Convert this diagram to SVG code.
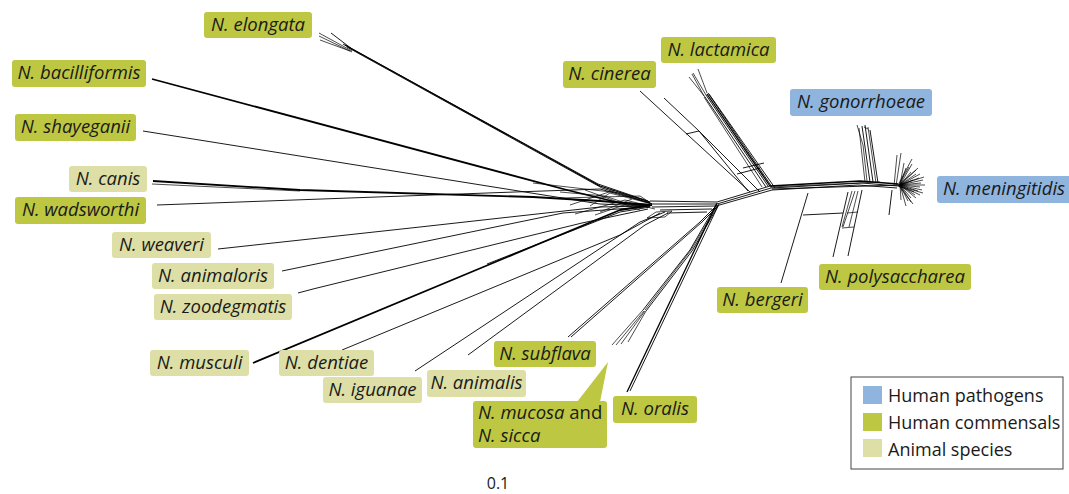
<svg xmlns="http://www.w3.org/2000/svg" width="1069" height="494" viewBox="0 0 1069 494">
<style>
.hc{fill:#bec741}
.an{fill:#dddfa6}
.hp{fill:#8fb4de}
.lb{font-family:"Open Sans","Noto Sans",sans-serif;font-style:italic;font-size:18.5px;fill:#1a1a1a;text-anchor:middle}
.lg{font-family:"Open Sans","Noto Sans",sans-serif;font-size:18px;fill:#1a1a1a}
#connectors path{fill:none;stroke:#000;stroke-width:0.9;stroke-linejoin:round}
#connectors .t{stroke-width:1.8}
#connectors .m{stroke-width:1.3}
#connectors .f{stroke-width:0.7}
</style>
<rect width="1069" height="494" fill="#fff"/>
<g id="connectors">
<!-- backbone -->
<path d="M650,201 L717,202"/>
<path d="M648,204 L717,204"/>
<path d="M652,207 L715,206"/>
<path d="M660,210 L712,209"/>
<path d="M667,213 L707,212"/>
<path d="M717,202 L770,186"/>
<path d="M717,204 L771,188"/>
<path d="M716,206 L772,190"/>
<path class="m" d="M770,186 L860,181 L898,184"/>
<path d="M771,188 L862,183 L898,186"/>
<path d="M772,190 L858,185 L897,188"/>
<path d="M772,189 L900,185"/>
<path class="f" d="M770,187 L880,182"/>
<!-- elongata -->
<path class="m" d="M345,45 L600,186 L650,202"/>
<path d="M343,44 L598,184 L648,201"/>
<path d="M347,47 L602,188 L652,204"/>
<path class="f" d="M319,33 L352,51"/>
<path class="f" d="M319,36 L352,52"/>
<path class="f" d="M320,40 L350,51"/>
<path d="M331,33 L352,49"/>
<!-- bacilliformis -->
<path class="t" d="M152,79 L567,190 L620,203 L650,205"/>
<!-- shayeganii -->
<path d="M143,131 L600,204 L650,206"/>
<!-- canis -->
<path class="t" d="M153,181 L300,190 L533,197 L600,201 L650,205"/>
<path class="f" d="M152,184 L300,191"/>
<!-- wadsworthi -->
<path d="M157,205 L487,193 L600,189 L650,203"/>
<!-- weaveri -->
<path d="M218,249 L420,227 L600,207 L650,206"/>
<!-- animaloris -->
<path d="M282,271 L563,213 L645,207"/>
<!-- zoodegmatis -->
<path d="M298,293 L313,289 L582,223 L648,209"/>
<!-- musculi -->
<path class="t" d="M253,363 L620,210 L652,205"/>
<path d="M487,264 L620,212 L650,207"/>
<!-- dentiae -->
<path d="M342,350 L620,235 L660,213"/>
<!-- iguanae -->
<path d="M415,371 L640,222 L665,212"/>
<!-- animalis -->
<path d="M468,355 L645,225 L668,213"/>
<!-- mesh -->
<path class="f" d="M647,218 L656,212 L672,211 L665,217 Z"/>
<path class="f" d="M533,183 L620,193 L650,203"/>
<path class="f" d="M560,198 L640,196 L652,204"/>
<path class="f" d="M575,214 L625,200 L650,206"/>
<path class="f" d="M590,206 L610,193 L648,203"/>
<path class="f" d="M600,212 L632,199"/>
<path class="f" d="M585,190 L640,210"/>
<path class="f" d="M560,192 L605,196 L640,208"/>
<path class="f" d="M570,205 L615,190"/>
<path class="f" d="M595,215 L630,203 L655,209"/>
<!-- subflava -->
<path d="M568,337 L700,222 L717,205"/>
<path d="M571,337 L702,222 L718,206"/>
<!-- mucosa / sicca -->
<path class="f" d="M612,345 L643,310"/>
<path class="f" d="M616,345 L644,311"/>
<path class="f" d="M621,344 L645,311"/>
<path class="f" d="M628,342 L646,311"/>
<path d="M643,310 L690,250 L716,205"/>
<path d="M646,311 L692,251 L718,206"/>
<path class="f" d="M645,310 L691,250 L717,206"/>
<!-- oralis -->
<path class="m" d="M627,392 L717,203"/>
<path d="M630,391 L719,204"/>
<!-- cinerea -->
<path d="M640,91 L750,192"/>
<path d="M664,98 L699,131 L760,192"/>
<path d="M686,134 L699,131"/>
<path d="M699,131 L748,191"/>
<path d="M737,174 L760,168"/>
<!-- lactamica -->
<path class="f" d="M689,77 L705,97"/>
<path class="f" d="M693,73 L706,95"/>
<path class="f" d="M698,69 L707,93"/>
<path class="f" d="M692,74 L704,96"/>
<path d="M705,97 L766,187"/>
<path d="M706,95 L768,186"/>
<path class="m" d="M707,94 L770,186"/>
<path d="M708,93 L772,187"/>
<path d="M709,94 L775,188"/>
<path class="f" d="M704,97 L762,187"/>
<path d="M743,168 L764,163"/>
<!-- gonorrhoeae -->
<path class="f" d="M857,125 L863,145 L867,181"/>
<path d="M862,126 L870,182"/>
<path d="M865,125 L873,182"/>
<path class="f" d="M868,127 L876,183"/>
<path d="M870,130 L878,183"/>
<path class="f" d="M859,128 L865,182"/>
<path class="f" d="M864,127 L868,129"/>
<!-- meningitidis fan -->
<g class="fan">
<path class="f" d="M900,185 L904,163"/>
<path class="f" d="M900,185 L906,168"/>
<path class="f" d="M900,185 L912,164"/>
<path class="f" d="M900,185 L911,172"/>
<path class="f" d="M900,185 L916,170"/>
<path class="f" d="M900,185 L916,174"/>
<path class="f" d="M900,185 L920,174"/>
<path class="f" d="M900,185 L919,178"/>
<path class="f" d="M900,185 L923,180"/>
<path class="f" d="M900,185 L921,183"/>
<path class="f" d="M900,185 L925,185"/>
<path class="f" d="M900,185 L920,187"/>
<path class="f" d="M900,185 L922,190"/>
<path class="f" d="M900,185 L918,191"/>
<path class="f" d="M900,185 L920,195"/>
<path class="f" d="M900,185 L915,195"/>
<path class="f" d="M900,185 L916,198"/>
<path class="f" d="M900,185 L911,198"/>
<path class="f" d="M900,185 L911,202"/>
<path class="f" d="M900,185 L908,201"/>
<path class="f" d="M900,185 L906,206"/>
<path class="f" d="M900,185 L901,200"/>
<path class="f" d="M896,186 L901,153"/>
<path class="f" d="M894,186 L897,155"/>
<path class="f" d="M898,185 L912,159"/>
<path class="f" d="M898,186 L909,167"/>
<path class="f" d="M898,186 L913,180"/>
<path class="f" d="M898,186 L914,192"/>
<path class="f" d="M899,185 L918,168"/>
<path class="f" d="M899,185 L924,177"/>
<path class="f" d="M899,186 L923,193"/>
<path class="f" d="M899,186 L913,204"/>
</g>
<!-- bergeri -->
<path d="M808,193 L781,283"/>
<path d="M803,215 L843,213"/>
<!-- polysaccharea -->
<path d="M848,192 L833,257"/>
<path d="M862,190 L848,256"/>
<path class="f" d="M855,191 L843,227"/>
<path class="f" d="M852,191 L842,227"/>
<path class="f" d="M858,191 L849,227"/>
<path class="f" d="M842,228 L854,227"/>
<path class="f" d="M847,213 L858,212"/>
<!-- small branch -->
<path d="M892,190 L889,215"/>
</g>
<g id="n-elongata"><rect class="hc" x="204" y="12" width="108" height="26" rx="3"/><text class="lb" x="258" y="31">N. elongata</text></g>
<g id="n-bacilliformis"><rect class="hc" x="12" y="60" width="134" height="27" rx="3"/><text class="lb" x="79" y="79">N. bacilliformis</text></g>
<g id="n-shayeganii"><rect class="hc" x="15" y="114" width="121" height="27" rx="3"/><text class="lb" x="75.5" y="133">N. shayeganii</text></g>
<g id="n-canis"><rect class="an" x="69" y="166" width="78" height="26" rx="3"/><text class="lb" x="108" y="185">N. canis</text></g>
<g id="n-wadsworthi"><rect class="hc" x="15" y="197" width="131" height="27" rx="3"/><text class="lb" x="80.5" y="216">N. wadsworthi</text></g>
<g id="n-weaveri"><rect class="an" x="112" y="232" width="99" height="26" rx="3"/><text class="lb" x="161.5" y="251">N. weaveri</text></g>
<g id="n-animaloris"><rect class="an" x="152" y="263" width="122" height="26" rx="3"/><text class="lb" x="213" y="282">N. animaloris</text></g>
<g id="n-zoodegmatis"><rect class="an" x="154" y="294" width="138" height="26" rx="3"/><text class="lb" x="223" y="313">N. zoodegmatis</text></g>
<g id="n-musculi"><rect class="an" x="150" y="350" width="99" height="26" rx="3"/><text class="lb" x="199.5" y="369">N. musculi</text></g>
<g id="n-dentiae"><rect class="an" x="279" y="350" width="95" height="26" rx="3"/><text class="lb" x="326.5" y="369">N. dentiae</text></g>
<g id="n-iguanae"><rect class="an" x="323" y="377" width="99" height="26" rx="3"/><text class="lb" x="372.5" y="396">N. iguanae</text></g>
<g id="n-animalis"><rect class="an" x="427" y="370" width="99" height="27" rx="3"/><text class="lb" x="476.5" y="389">N. animalis</text></g>
<g id="n-subflava"><rect class="hc" x="494" y="341" width="102" height="26" rx="3"/><text class="lb" x="545" y="360">N. subflava</text></g>
<g id="n-mucosa-sicca"><path class="hc" d="M577,402 L608,362 L600,402 Z"/><rect class="hc" x="473" y="401" width="134" height="47" rx="3"/><text class="lb" x="478" y="419" style="text-anchor:start">N. mucosa<tspan style="font-style:normal"> and</tspan></text><text class="lb" x="478" y="442" style="text-anchor:start">N. sicca</text></g>
<g id="n-oralis"><rect class="hc" x="613" y="396" width="84" height="27" rx="3"/><text class="lb" x="655" y="415">N. oralis</text></g>
<g id="n-bergeri"><rect class="hc" x="717" y="287" width="91" height="26" rx="3"/><text class="lb" x="762.5" y="306">N. bergeri</text></g>
<g id="n-polysaccharea"><rect class="hc" x="819" y="264" width="152" height="26" rx="3"/><text class="lb" x="895" y="283">N. polysaccharea</text></g>
<g id="n-cinerea"><rect class="hc" x="563" y="61" width="93" height="27" rx="3"/><text class="lb" x="609.5" y="80">N. cinerea</text></g>
<g id="n-lactamica"><rect class="hc" x="661" y="37" width="115" height="26" rx="3"/><text class="lb" x="718.5" y="56">N. lactamica</text></g>
<g id="n-gonorrhoeae"><rect class="hp" x="790" y="89" width="142" height="27" rx="3"/><text class="lb" x="861" y="108">N. gonorrhoeae</text></g>
<g id="n-meningitidis"><rect class="hp" x="937" y="176" width="140" height="27" rx="3"/><text class="lb" x="1004" y="195">N. meningitidis</text></g>
<g id="legend">
<rect x="851" y="377" width="212" height="92" fill="#fff" stroke="#444" stroke-width="1"/>
<rect class="hp" x="863" y="386" width="19" height="18"/>
<rect class="hc" x="863" y="413" width="19" height="18"/>
<rect class="an" x="863" y="439" width="19" height="18"/>
<text class="lg" x="888" y="402">Human pathogens</text>
<text class="lg" x="888" y="429">Human commensals</text>
<text class="lg" x="888" y="456">Animal species</text>
</g>
<text id="scale" x="498" y="489" style="font-family:'Open Sans','Noto Sans',sans-serif;font-size:16px;fill:#1a1a1a;text-anchor:middle">0.1</text>
</svg>
